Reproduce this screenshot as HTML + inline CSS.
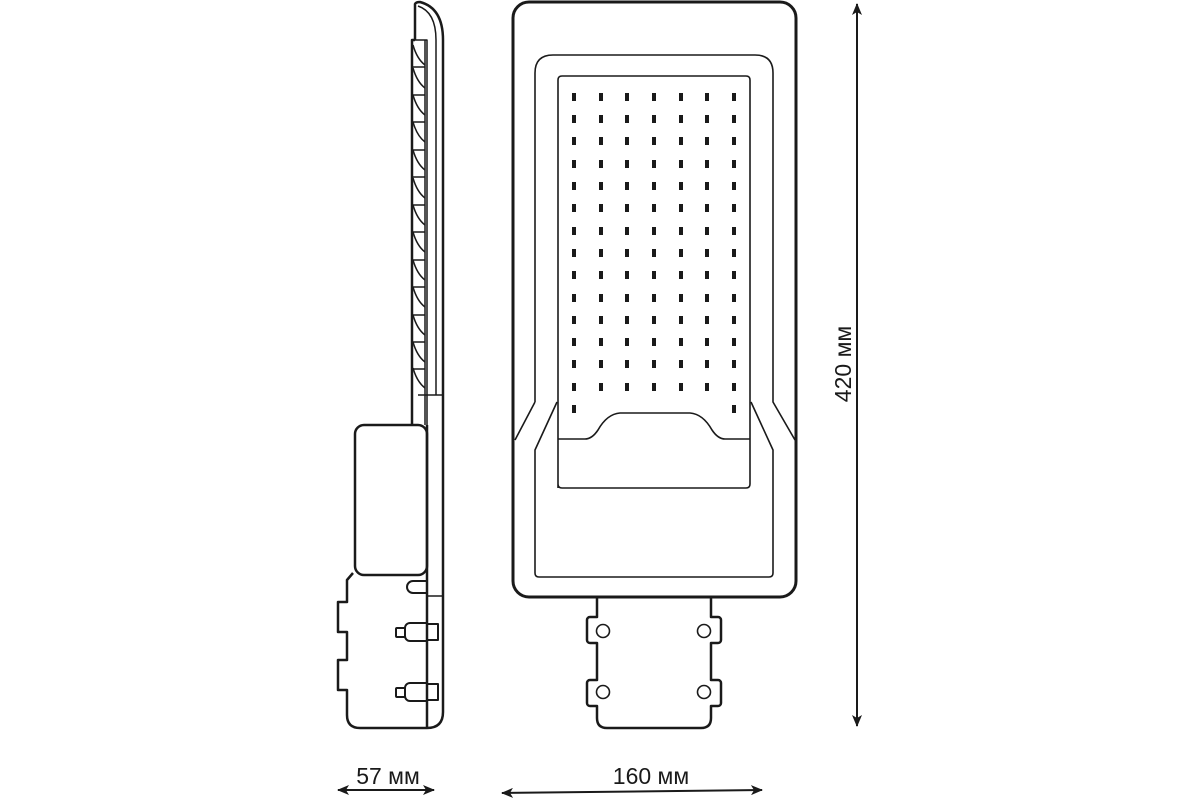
<!DOCTYPE html>
<html><head><meta charset="utf-8"><style>html,body{margin:0;background:#fff}svg{display:block}</style></head><body>
<svg width="1200" height="800" viewBox="0 0 1200 800" xmlns="http://www.w3.org/2000/svg" fill="none" stroke="#1a1a1a" stroke-linejoin="round">
<defs><marker id="ah" viewBox="0 0 12 10" refX="11" refY="5" markerWidth="12" markerHeight="10" markerUnits="userSpaceOnUse" orient="auto-start-reverse"><path d="M0,0 L12,5 L0,10 L3,5 Z" fill="#1a1a1a" stroke="none"/></marker></defs>
<!-- side view -->
<g stroke-width="2.5">
<path d="M415,40 V4 Q416,2 420,2 Q443,8 443,40 V712 Q443,728 427,728 H360 Q347,728 347,715 V690 H338 V660 H347 V632 H338 V602 H347 V580 L353,573"/>
<rect x="355" y="425" width="72" height="150" rx="9"/>
<line x1="427" y1="425" x2="427" y2="728"/>
<path d="M415,40 H412 V425"/>
</g>
<g stroke-width="1.5">
<path d="M418,6 Q436,12 436,40 V395"/>
<line x1="425" y1="40" x2="425" y2="425"/>
<path d="M418,395 H443"/>
<path d="M412,40 H427 V425"/>
<path d="M427,596 H443"/>
<path d="M413,45 q4,14 12,20 M413,68 q4,14 12,20 M413,95 q4,14 12,20 M413,122 q4,14 12,20 M413,150 q4,14 12,20 M413,178 q4,14 12,20 M413,205 q4,14 12,20 M413,232 q4,14 12,20 M413,260 q4,14 12,20 M413,287 q4,14 12,20 M413,315 q4,14 12,20 M413,342 q4,14 12,20 M413,368 q4,14 12,20"/>
<path d="M412,67 h13 M412,95 h13 M412,122 h13 M412,150 h13 M412,177 h13 M412,205 h13 M412,232 h13 M412,260 h13 M412,287 h13 M412,315 h13 M412,342 h13 M412,369 h13"/>
</g>
<g stroke-width="2">
<path d="M427,581 h-14 a6,6 0 0 0 0,12 h14"/>
<rect x="396" y="628" width="9" height="9" rx="1"/>
<path d="M427,623 h-17 a5,5 0 0 0 -5,5 v8 a5,5 0 0 0 5,5 h17"/>
<rect x="427" y="624" width="11" height="16"/>
<rect x="396" y="688" width="9" height="9" rx="1"/>
<path d="M427,683 h-17 a5,5 0 0 0 -5,5 v8 a5,5 0 0 0 5,5 h17"/>
<rect x="427" y="684" width="11" height="16"/>
</g>
<!-- front view -->
<rect x="513" y="2" width="283" height="595" rx="16" stroke-width="3"/>
<g stroke-width="1.6">
<path d="M535,402 V73 Q535,55 553,55 H755 Q773,55 773,73 V402 L795,440 M535,402 L515,440"/>
<path d="M557,402 L535,450 V573 Q535,577 539,577 H769 Q773,577 773,573 V450 L751,402"/>
<path d="M558,488 V80 Q558,76 562,76 H746 Q750,76 750,80 V484 Q750,488 746,488 H562 Q558,488 558,484"/>
<path d="M558,439 H585 Q592,439 598,430 Q607,414 620,413 H690 Q703,414 712,430 Q718,439 725,439 H750"/>
</g>
<!-- bracket -->
<g stroke-width="2.5">
<path d="M597,598 V617 h-7 a3,3 0 0 0 -3,3 v20 a3,3 0 0 0 3,3 h7 V680 h-7 a3,3 0 0 0 -3,3 v20 a3,3 0 0 0 3,3 h7 V718 Q597,728 607,728 H701 Q711,728 711,718 V706 h7 a3,3 0 0 0 3,-3 v-20 a3,3 0 0 0 -3,-3 h-7 V643 h7 a3,3 0 0 0 3,-3 v-20 a3,3 0 0 0 -3,-3 h-7 V598"/>
</g>
<g stroke-width="1.6"><circle cx="603" cy="631" r="6.5"/><circle cx="704" cy="631" r="6.5"/><circle cx="603" cy="692" r="6.5"/><circle cx="704" cy="692" r="6.5"/></g>
<!-- dimensions -->
<g stroke-width="2">
<line x1="857" y1="4" x2="857" y2="726" marker-start="url(#ah)" marker-end="url(#ah)"/>
<line x1="338" y1="790" x2="434" y2="790" marker-start="url(#ah)" marker-end="url(#ah)"/>
<line x1="502" y1="793" x2="762" y2="790" marker-start="url(#ah)" marker-end="url(#ah)"/>
</g>
<g fill="#1a1a1a" stroke="none" font-family="Liberation Sans, DejaVu Sans, sans-serif" font-size="23">
<text x="388" y="784" text-anchor="middle">57 мм</text>
<text x="651" y="784" text-anchor="middle">160 мм</text>
<text transform="translate(851,364) rotate(-90)" text-anchor="middle">420 мм</text>
</g>
<g fill="#1a1a1a" stroke="none">
<path d="
M572,93h4v8h-4z M599,93h4v8h-4z M625,93h4v8h-4z M652,93h4v8h-4z M679,93h4v8h-4z M705,93h4v8h-4z M732,93h4v8h-4z
M572,115h4v8h-4z M599,115h4v8h-4z M625,115h4v8h-4z M652,115h4v8h-4z M679,115h4v8h-4z M705,115h4v8h-4z M732,115h4v8h-4z
M572,137h4v8h-4z M599,137h4v8h-4z M625,137h4v8h-4z M652,137h4v8h-4z M679,137h4v8h-4z M705,137h4v8h-4z M732,137h4v8h-4z
M572,160h4v8h-4z M599,160h4v8h-4z M625,160h4v8h-4z M652,160h4v8h-4z M679,160h4v8h-4z M705,160h4v8h-4z M732,160h4v8h-4z
M572,182h4v8h-4z M599,182h4v8h-4z M625,182h4v8h-4z M652,182h4v8h-4z M679,182h4v8h-4z M705,182h4v8h-4z M732,182h4v8h-4z
M572,204h4v8h-4z M599,204h4v8h-4z M625,204h4v8h-4z M652,204h4v8h-4z M679,204h4v8h-4z M705,204h4v8h-4z M732,204h4v8h-4z
M572,227h4v8h-4z M599,227h4v8h-4z M625,227h4v8h-4z M652,227h4v8h-4z M679,227h4v8h-4z M705,227h4v8h-4z M732,227h4v8h-4z
M572,249h4v8h-4z M599,249h4v8h-4z M625,249h4v8h-4z M652,249h4v8h-4z M679,249h4v8h-4z M705,249h4v8h-4z M732,249h4v8h-4z
M572,271h4v8h-4z M599,271h4v8h-4z M625,271h4v8h-4z M652,271h4v8h-4z M679,271h4v8h-4z M705,271h4v8h-4z M732,271h4v8h-4z
M572,294h4v8h-4z M599,294h4v8h-4z M625,294h4v8h-4z M652,294h4v8h-4z M679,294h4v8h-4z M705,294h4v8h-4z M732,294h4v8h-4z
M572,316h4v8h-4z M599,316h4v8h-4z M625,316h4v8h-4z M652,316h4v8h-4z M679,316h4v8h-4z M705,316h4v8h-4z M732,316h4v8h-4z
M572,338h4v8h-4z M599,338h4v8h-4z M625,338h4v8h-4z M652,338h4v8h-4z M679,338h4v8h-4z M705,338h4v8h-4z M732,338h4v8h-4z
M572,360h4v8h-4z M599,360h4v8h-4z M625,360h4v8h-4z M652,360h4v8h-4z M679,360h4v8h-4z M705,360h4v8h-4z M732,360h4v8h-4z
M572,383h4v8h-4z M599,383h4v8h-4z M625,383h4v8h-4z M652,383h4v8h-4z M679,383h4v8h-4z M705,383h4v8h-4z M732,383h4v8h-4z
M572,405h4v8h-4z M732,405h4v8h-4z"/>
</g>
</svg>
</body></html>
